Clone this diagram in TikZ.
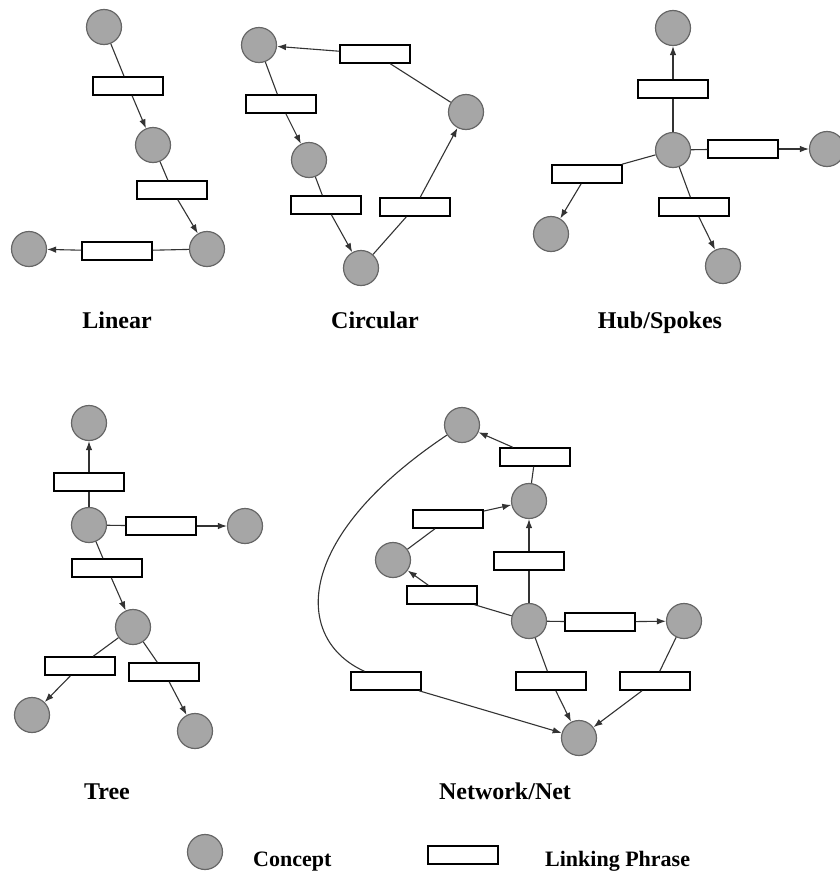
\documentclass[tikz,border=0pt]{standalone}
\usepackage{fontspec}
\setmainfont{Liberation Serif}
\usetikzlibrary{arrows.meta}
\begin{document}
\begin{tikzpicture}[x=1pt,y=1pt,
  concept/.style={circle,draw=black!60,line width=1.2pt,fill=black!35,minimum size=35pt,inner sep=0pt},
  phrase/.style={rectangle,draw=black,line width=1.5pt,fill=white,minimum width=70pt,minimum height=18pt,inner sep=0pt},
  link/.style={draw=black!80,line width=1.1pt},
  arr/.style={link,-{Latex[length=9pt,width=6.5pt]}},
  title/.style={font=\bfseries\fontsize{24}{28}\selectfont,anchor=base,inner sep=0pt},
  legend/.style={font=\bfseries\fontsize{22}{26}\selectfont,anchor=base west,inner sep=0pt}]
\useasboundingbox (0,0) rectangle (840,-873);

% ---------- Linear ----------
\node[concept] (L1) at (104,-27) {};
\node[phrase] (LR1) at (128,-86) {};
\node[concept] (L2) at (153,-145) {};
\node[phrase] (LR2) at (172,-190) {};
\node[concept] (L3) at (207,-249) {};
\node[phrase] (LR3) at (117,-251) {};
\node[concept] (L4) at (29,-249) {};
\draw[link] (L1) -- (LR1);
\draw[arr] (LR1) -- (L2);
\draw[link] (L2) -- (LR2);
\draw[arr] (LR2) -- (L3);
\draw[link] (L3) -- (LR3);
\draw[arr] (LR3) -- (L4);

% ---------- Circular ----------
\node[concept] (Ca) at (259,-45) {};
\node[phrase] (Ra) at (375,-54) {};
\node[concept] (Cb) at (466,-112) {};
\node[phrase] (Rb) at (281,-104) {};
\node[concept] (Cc) at (309,-160) {};
\node[phrase] (Rc) at (326,-205) {};
\node[phrase] (Rd) at (415,-207) {};
\node[concept] (Cd) at (361,-268) {};
\draw[link] (Cb) -- (Ra);
\draw[arr] (Ra) -- (Ca);
\draw[link] (Ca) -- (Rb);
\draw[arr] (Rb) -- (Cc);
\draw[link] (Cc) -- (Rc);
\draw[arr] (Rc) -- (Cd);
\draw[link] (Cd) -- (Rd);
\draw[arr] (Rd) -- (Cb);

% ---------- Hub/Spokes ----------
\node[concept] (Ht) at (673,-28) {};
\node[phrase] (HRt) at (673,-89) {};
\node[concept] (H) at (673,-150) {};
\node[phrase] (HRr) at (743,-149) {};
\node[concept] (Hr) at (827,-149) {};
\node[phrase] (HRl) at (587,-174) {};
\node[concept] (Hl) at (551,-234) {};
\node[phrase] (HRb) at (694,-207) {};
\node[concept] (Hb) at (723,-266) {};
\draw[link] (H) -- (HRt);
\draw[arr] (HRt) -- (Ht);
\draw[link] (H) -- (HRr);
\draw[arr] (HRr) -- (Hr);
\draw[link] (H) -- (HRl);
\draw[arr] (HRl) -- (Hl);
\draw[link] (H) -- (HRb);
\draw[arr] (HRb) -- (Hb);

% ---------- Tree ----------
\node[concept] (T1) at (89,-423) {};
\node[phrase] (TR1) at (89,-482) {};
\node[concept] (T2) at (89,-525) {};
\node[phrase] (TR2) at (161,-526) {};
\node[concept] (T3) at (245,-526) {};
\node[phrase] (TR3) at (107,-568) {};
\node[concept] (T4) at (133,-627) {};
\node[phrase] (TR4) at (80,-666) {};
\node[phrase] (TR5) at (164,-672) {};
\node[concept] (T5) at (32,-715) {};
\node[concept] (T6) at (195,-731) {};
\draw[link] (T2) -- (TR1);
\draw[arr] (TR1) -- (T1);
\draw[link] (T2) -- (TR2);
\draw[arr] (TR2) -- (T3);
\draw[link] (T2) -- (TR3);
\draw[arr] (TR3) -- (T4);
\draw[link] (T4) -- (TR4);
\draw[arr] (TR4) -- (T5);
\draw[link] (T4) -- (TR5);
\draw[arr] (TR5) -- (T6);

% ---------- Network/Net ----------
\node[concept] (N1) at (462,-425) {};
\node[phrase] (NR1) at (535,-457) {};
\node[concept] (N2) at (529,-501) {};
\node[phrase] (NR2) at (448,-519) {};
\node[concept] (N3) at (393,-560) {};
\node[phrase] (NR3) at (529,-561) {};
\node[phrase] (NR4) at (442,-595) {};
\node[concept] (N4) at (529,-621) {};
\node[phrase] (NR5) at (600,-622) {};
\node[concept] (N5) at (684,-621) {};
\node[phrase] (NR6) at (386,-681) {};
\node[phrase] (NR7) at (551,-681) {};
\node[phrase] (NR8) at (655,-681) {};
\node[concept] (N6) at (579,-738) {};
\draw[link] (N2) -- (NR1);
\draw[arr] (NR1) -- (N1);
\draw[link] (N3) -- (NR2);
\draw[arr] (NR2) -- (N2);
\draw[link] (N4) -- (NR3);
\draw[arr] (NR3) -- (N2);
\draw[link] (N4) -- (NR4);
\draw[arr] (NR4) -- (N3);
\draw[link] (N4) -- (NR5);
\draw[arr] (NR5) -- (N5);
\draw[link] (N4) -- (NR7);
\draw[arr] (NR7) -- (N6);
\draw[link] (N5) -- (NR8);
\draw[arr] (NR8) -- (N6);
\draw[link] (N1) .. controls (290,-540) and (295,-640) .. (NR6);
\draw[arr] (NR6) -- (N6);

% ---------- Titles ----------
\node[title] (tLinear) at (117,-328) {Linear};
\node[title] (tCirc) at (375,-328) {Circular};
\node[title] (tHub) at (660,-328) {Hub/Spokes};
\node[title] (tTree) at (107,-799) {Tree};
\node[title] (tNet) at (505,-799) {Network/Net};

% ---------- Legend ----------
\node[concept] (lc) at (205,-852) {};
\node[legend] (lct) at (253,-866) {Concept};
\node[phrase] (lr) at (463,-855) {};
\node[legend] (lrt) at (545,-866) {Linking Phrase};
\end{tikzpicture}
\end{document}
